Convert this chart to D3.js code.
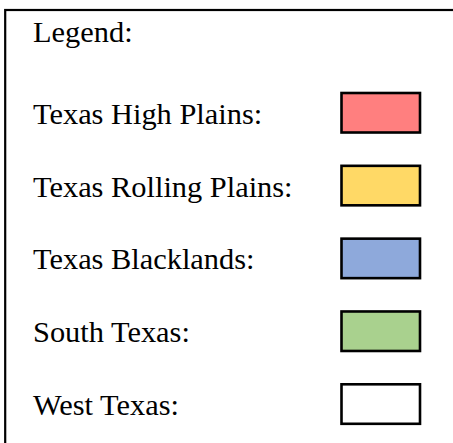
<!DOCTYPE html>
<html>
<head>
<meta charset="utf-8">
<script src="https://cdn.jsdelivr.net/npm/d3@7"></script>
<style>
  body { margin: 0; background: #fff; }
  svg { display: block; }
</style>
</head>
<body>
<svg id="chart"></svg>
<script>
// legend entries
var regions = ["Texas High Plains:", "Texas Rolling Plains:", "Texas Blacklands:", "South Texas:", "West Texas:"];
var swatchColors = ["#FF7F7F", "#FFD966", "#8EA9DB", "#A9D18E", "#FFFFFF"];
var title = "Legend:";

var width = 453, height = 443;

var svg = d3.select('#chart')
  .attr('width', width)
  .attr('height', height);

// outer frame, runs off the right and bottom edge
svg.append('rect')
  .attr('x', 5.2)
  .attr('y', 10)
  .attr('width', 600)
  .attr('height', 600)
  .attr('fill', '#fff')
  .attr('stroke', '#000')
  .attr('stroke-width', 2.2);

// row centres
var yScale = d3.scalePoint()
  .domain(regions)
  .range([112.7, 404]);

var font = "'Liberation Serif', 'Times New Roman', serif";

svg.append('text')
  .attr('x', 33)
  .attr('y', 41.7)
  .attr('font-family', font)
  .attr('font-size', '30.4px')
  .attr('fill', '#000')
  .text(title);

var rows = svg.append('g')
  .selectAll('g')
  .data(regions)
  .enter()
  .append('g');

rows.append('text')
  .attr('x', 33)
  .attr('y', function(d) { return yScale(d) + 11; })
  .attr('font-family', font)
  .attr('font-size', '30.4px')
  .attr('fill', '#000')
  .text(function(d) { return d; });

rows.append('rect')
  .attr('x', 341.5)
  .attr('y', function(d) { return yScale(d) - 19.7; })
  .attr('width', 78.5)
  .attr('height', 39.5)
  .attr('fill', function(d, i) { return swatchColors[i]; })
  .attr('stroke', '#000')
  .attr('stroke-width', 2.6);
</script>
</body>
</html>
